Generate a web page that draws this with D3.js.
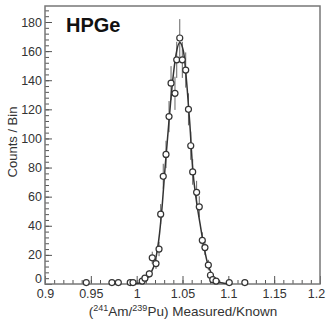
<!DOCTYPE html>
<html>
<head>
<meta charset="utf-8">
<script src="https://cdn.jsdelivr.net/npm/d3@7"></script>
<style>
  body { margin: 0; background: #fff; }
  svg { display: block; font-family: "Liberation Sans", Arial, sans-serif; }
</style>
</head>
<body>
<svg id="chart"></svg>
<script>
// measured ratio bins (x), counts (y) and error bars
var ratio = [0.945, 0.973, 0.980, 0.993, 0.996, 1.006, 1.009, 1.0138, 1.017, 1.0211,
             1.0244, 1.0262, 1.029, 1.032, 1.0353, 1.0375, 1.0418, 1.0437, 1.047, 1.0498,
             1.0535, 1.0565, 1.059, 1.0611, 1.0654, 1.0683, 1.0716, 1.0745, 1.0782, 1.0805,
             1.083, 1.0866, 1.101, 1.118];
var counts = [1, 1, 1, 1, 1, 2, 4, 7, 18, 14,
              24, 48, 74, 89, 115, 138, 131, 154, 169, 154,
              147, 120, 95, 77, 63, 53, 30, 25, 13, 6,
              3, 2, 1, 1];
var errs = [1, 1, 1, 1, 1, 1.4, 2, 2.6, 4.2, 3.7,
            4.9, 6.9, 8.6, 9.4, 10.7, 11.7, 11.4, 12.4, 13, 12.4,
            12.1, 11, 9.7, 8.8, 7.9, 7.3, 5.5, 5, 3.6, 2.4,
            1.7, 1.4, 1, 1];

// fitted curve, sampled from the drawn line
var fitX = [0.99, 1.0, 1.005, 1.01, 1.015, 1.02, 1.025, 1.028, 1.031, 1.035, 1.039, 1.043,
            1.047, 1.051, 1.055, 1.058, 1.061, 1.065, 1.069, 1.073, 1.077, 1.081, 1.085,
            1.09, 1.095, 1.1];
var fitY = [0, 0.3, 1, 3, 7, 15, 35, 55, 80, 110, 138, 158,
            166, 160, 135, 110, 80, 58, 42, 27, 15, 8, 4,
            1.5, 0.5, 0];

var xMajor = [0.9, 0.95, 1, 1.05, 1.1, 1.15, 1.2];
var xMinor = d3.range(0, 31).map(i => +(0.9 + i * 0.01).toFixed(2));
var yMajor = [0, 20, 40, 60, 80, 100, 120, 140, 160, 180];
var yMinor = d3.range(0, 48).map(i => i * 4);

var width = 327, height = 327;
var margin = { top: 6, right: 7, bottom: 43, left: 45 };

var x = d3.scaleLinear()
    .domain([0.9, 1.2])
    .range([margin.left, width - margin.right]);

var y = d3.scaleLinear()
    .domain([0, 191])
    .range([height - margin.bottom, margin.top]);

var svg = d3.select("#chart")
    .attr("width", width)
    .attr("height", height)
    .attr("viewBox", [0, 0, width, height]);

var axisColor = "#555";

// minor ticks
svg.append("g")
    .attr("transform", `translate(0,${height - margin.bottom})`)
    .call(d3.axisBottom(x).tickValues(xMinor).tickSize(-4).tickFormat(""))
    .call(g => g.select(".domain").remove());

svg.append("g")
    .attr("transform", `translate(${margin.left},0)`)
    .call(d3.axisLeft(y).tickValues(yMinor.filter(v => v <= 188)).tickSize(-4).tickFormat(""))
    .call(g => g.select(".domain").remove());

// major ticks with labels
var xAxis = g => g
    .attr("transform", `translate(0,${height - margin.bottom})`)
    .call(d3.axisBottom(x).tickValues(xMajor).tickSize(-8).tickPadding(5)
        .tickFormat(d => d3.format("")(+d.toFixed(2))))
    .call(g => g.select(".domain").remove())
    .call(g => g.select(".tick:last-of-type text").attr("dx", -4));

var yAxis = g => g
    .attr("transform", `translate(${margin.left},0)`)
    .call(d3.axisLeft(y).tickValues(yMajor).tickSize(-7).tickPadding(3))
    .call(g => g.select(".domain").remove())
    .call(g => g.select(".tick:first-of-type text").attr("dy", "-0.12em"));

svg.append("g").call(xAxis);
svg.append("g").call(yAxis);

svg.selectAll(".tick line").attr("stroke", axisColor).attr("stroke-width", 1);
svg.selectAll(".tick text")
    .attr("fill", "#333")
    .attr("font-size", 12.5)
    .attr("font-family", "Liberation Sans, Arial, sans-serif");

// frame
svg.append("rect")
    .attr("x", margin.left)
    .attr("y", margin.top)
    .attr("width", width - margin.left - margin.right)
    .attr("height", height - margin.top - margin.bottom)
    .attr("fill", "none")
    .attr("stroke", "#777")
    .attr("stroke-width", 1.5);

var pts = ratio.map((r, i) => ({ r: r, c: counts[i], e: errs[i] }));

// error bars
svg.append("g")
    .selectAll("line")
    .data(pts)
    .join("line")
    .attr("x1", d => x(d.r))
    .attr("x2", d => x(d.r))
    .attr("y1", d => y(Math.max(0, d.c - d.e)))
    .attr("y2", d => y(d.c + d.e))
    .attr("stroke", "#666")
    .attr("stroke-width", 1);

// fit curve
var fit = fitX.map((v, i) => [v, fitY[i]]);
svg.append("path")
    .datum(fit)
    .attr("fill", "none")
    .attr("stroke", "#333")
    .attr("stroke-width", 1.5)
    .attr("d", d3.line()
        .x(d => x(d[0]))
        .y(d => y(d[1]))
        .curve(d3.curveMonotoneX));

// data markers
svg.append("g")
    .selectAll("circle")
    .data(pts)
    .join("circle")
    .attr("cx", d => x(d.r))
    .attr("cy", d => y(d.c))
    .attr("r", 3)
    .attr("fill", "#fff")
    .attr("stroke", "#333")
    .attr("stroke-width", 1.2);

// label
svg.append("text")
    .attr("x", 66)
    .attr("y", 32)
    .attr("font-size", 20)
    .attr("font-weight", "bold")
    .attr("fill", "#111")
    .text("HPGe");

// axis titles
svg.append("text")
    .attr("transform", "translate(17,142) rotate(-90)")
    .attr("text-anchor", "middle")
    .attr("font-size", 13)
    .attr("fill", "#333")
    .text("Counts / Bin");

var xt = svg.append("text")
    .attr("x", 183)
    .attr("y", 316)
    .attr("text-anchor", "middle")
    .attr("font-size", 13.5)
    .attr("fill", "#333");
xt.append("tspan").text("(");
xt.append("tspan").attr("font-size", 9).attr("dy", -5).text("241");
xt.append("tspan").attr("dy", 5).text("Am/");
xt.append("tspan").attr("font-size", 9).attr("dy", -5).text("239");
xt.append("tspan").attr("dy", 5).text("Pu) Measured/Known");
</script>
</body>
</html>
